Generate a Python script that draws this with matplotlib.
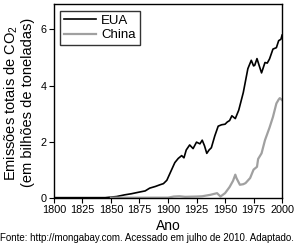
import matplotlib
matplotlib.use('Agg')
import matplotlib.pyplot as plt

plt.rcParams['font.family'] = ['Liberation Sans', 'DejaVu Sans']
plt.rcParams['mathtext.fontset'] = 'custom'
plt.rcParams['mathtext.rm'] = 'Liberation Sans'
plt.rcParams['mathtext.it'] = 'Liberation Sans:italic'

# EUA (bilhoes de toneladas de CO2)
eua_anos = [1800, 1845, 1850, 1855, 1862, 1868, 1875, 1880, 1884, 1889, 1893, 1896,
            1899, 1903, 1906, 1909, 1912, 1914, 1916, 1919, 1922, 1925, 1928, 1930,
            1932, 1934, 1936, 1938, 1941, 1944, 1947, 1950, 1952, 1954, 1956, 1959,
            1962, 1966, 1970, 1973, 1975, 1976, 1978, 1980, 1982, 1985, 1987, 1989,
            1992, 1995, 1997, 1999, 2000]
eua_val = [0.0, 0.0, 0.02, 0.04, 0.1, 0.14, 0.2, 0.24, 0.34, 0.4, 0.46, 0.5,
           0.62, 0.98, 1.25, 1.4, 1.5, 1.42, 1.7, 1.88, 1.75, 1.98, 1.92, 2.05,
           1.85, 1.58, 1.7, 1.78, 2.2, 2.55, 2.6, 2.62, 2.7, 2.75, 2.92, 2.82,
           3.12, 3.75, 4.6, 4.9, 4.7, 4.72, 4.96, 4.7, 4.45, 4.82, 4.8, 4.95,
           5.3, 5.35, 5.6, 5.65, 5.8]

# China
china_anos = [1850, 1900, 1905, 1910, 1915, 1925, 1930, 1937, 1941, 1943, 1946,
              1950, 1954, 1957, 1959, 1960, 1963, 1966, 1968, 1972, 1975, 1978,
              1979, 1982, 1985, 1989, 1992, 1995, 1997, 1998, 2000]
china_val = [0.0, 0.0, 0.04, 0.05, 0.03, 0.04, 0.05, 0.1, 0.14, 0.16, 0.04,
             0.16, 0.38, 0.6, 0.82, 0.7, 0.46, 0.48, 0.52, 0.7, 1.0, 1.1,
             1.38, 1.58, 2.05, 2.5, 2.88, 3.36, 3.5, 3.55, 3.48]

fig = plt.figure(figsize=(2.96, 2.48), dpi=100)
ax = fig.add_axes([0.182, 0.203, 0.771, 0.78])

ax.plot(eua_anos, eua_val, color='black', lw=1.2, label='EUA')
ax.plot(china_anos, china_val, color='#a0a0a0', lw=1.6, label='China')

ax.set_xlim(1800, 2000)
ax.set_ylim(0, 6.9)
ax.set_xticks([1800, 1825, 1850, 1875, 1900, 1925, 1950, 1975, 2000])
ax.set_yticks([0, 2, 4, 6])
ax.tick_params(labelsize=7.8, length=3.5, width=0.8, pad=1.5)
for s in ax.spines.values():
    s.set_linewidth(1.0)

ax.set_ylabel('Emissões totais de CO$_2$\n(em bilhões de toneladas)', fontsize=10.5,
              linespacing=1.1)
ax.yaxis.set_label_coords(-0.084, 0.49)

leg = ax.legend(loc='upper left', fontsize=9.5, frameon=True, fancybox=False,
                edgecolor='black', handlelength=2.4, handletextpad=0.4,
                borderpad=0.3, labelspacing=0.15, borderaxespad=0.5)
leg.get_frame().set_linewidth(1.0)

fig.text(0.57, 0.088, 'Ano', ha='center', va='center', fontsize=10)
fig.text(0.0, 0.04, 'Fonte: http://mongabay.com. Acessado em julho de 2010. Adaptado.',
         ha='left', va='center', fontsize=7)

fig.savefig('out.png', dpi=100)
